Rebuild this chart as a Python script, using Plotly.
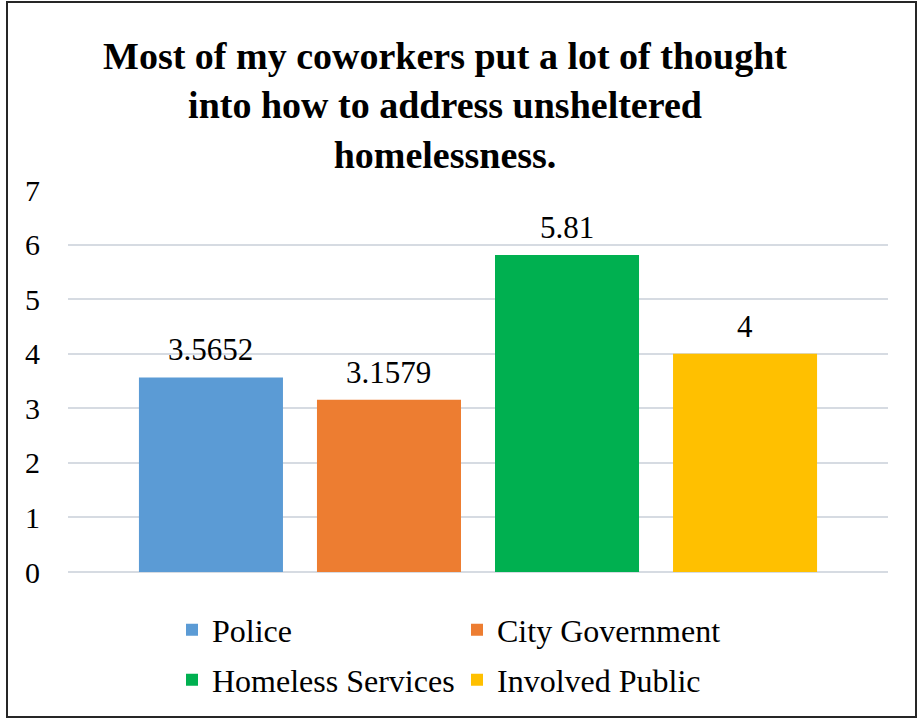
import plotly.graph_objects as go

# Survey responses: mean agreement per respondent group
groups = ["Police", "City Government", "Homeless Services", "Involved Public"]
means = [3.5652, 3.1579, 5.81, 4]
mean_labels = ["3.5652", "3.1579", "5.81", "4"]
colors = ["#5B9BD5", "#ED7D31", "#00B050", "#FFC000"]
y_ticks = [0, 1, 2, 3, 4, 5, 6, 7]
legend_rows = ["legend", "legend", "legend2", "legend2"]

FONT = "Liberation Serif"

W, H = 917, 719
ML, MR, MT, MB = 68, 29, 190, 147
PW, PH = W - ML - MR, H - MT - MB


def px_x(p):
    return (p - ML) / PW


def px_y(p):
    return (H - MB - p) / PH


fig = go.Figure()

for i, (g, v, c) in enumerate(zip(groups, means, colors)):
    fig.add_trace(go.Bar(
        x=[i], y=[v], name=g,
        marker=dict(color=c, line=dict(width=0)),
        width=0.809,
        legend=legend_rows[i],
        hoverinfo="name+y",
    ))
    fig.add_annotation(
        x=i, y=v, text=mean_labels[i], showarrow=False,
        yanchor="bottom", yshift=8,
        font=dict(family=FONT, size=31, color="#000000"),
    )

# outer frame around the whole chart
fig.add_shape(
    type="rect", xref="paper", yref="paper",
    x0=px_x(7), x1=px_x(916), y0=px_y(717), y1=px_y(2),
    line=dict(color="#262626", width=2), fillcolor="rgba(0,0,0,0)",
    layer="above",
)

legend_style = dict(
    orientation="h", xanchor="left", yanchor="middle",
    entrywidth=240, entrywidthmode="pixels",
    font=dict(family=FONT, size=32, color="#000000"),
    bgcolor="rgba(0,0,0,0)", traceorder="normal",
)

fig.update_layout(
    width=W, height=H,
    margin=dict(l=ML, r=MR, t=MT, b=MB, pad=0),
    paper_bgcolor="white", plot_bgcolor="white",
    barmode="overlay",
    font=dict(family=FONT, color="#000000"),
    title=dict(
        text="<b>Most of my coworkers put a lot of thought<br>into how to address unsheltered<br>homelessness.</b>",
        x=445 / W, xanchor="center", xref="container",
        y=(H - 69) / H, yanchor="top", yref="container",
        font=dict(family=FONT, size=38, color="#000000"),
    ),
    xaxis=dict(
        range=[-0.803, 3.803], showticklabels=False, showgrid=False,
        zeroline=False, showline=False, ticks="", fixedrange=True,
    ),
    yaxis=dict(
        range=[0, 7], tickvals=y_ticks, ticktext=[str(t) for t in y_ticks],
        showgrid=True, gridcolor="#d6dbe2", gridwidth=1.5,
        zeroline=True, zerolinecolor="#d6dbe2", zerolinewidth=1.5,
        showline=False, ticks="", ticklabelstandoff=27,
        tickfont=dict(family=FONT, size=30, color="#000000"),
        fixedrange=True,
    ),
    legend=dict(x=px_x(172), y=px_y(630), **legend_style),
    legend2=dict(x=px_x(172), y=px_y(680), **legend_style),
    showlegend=True,
)

fig.write_html("out.html")
